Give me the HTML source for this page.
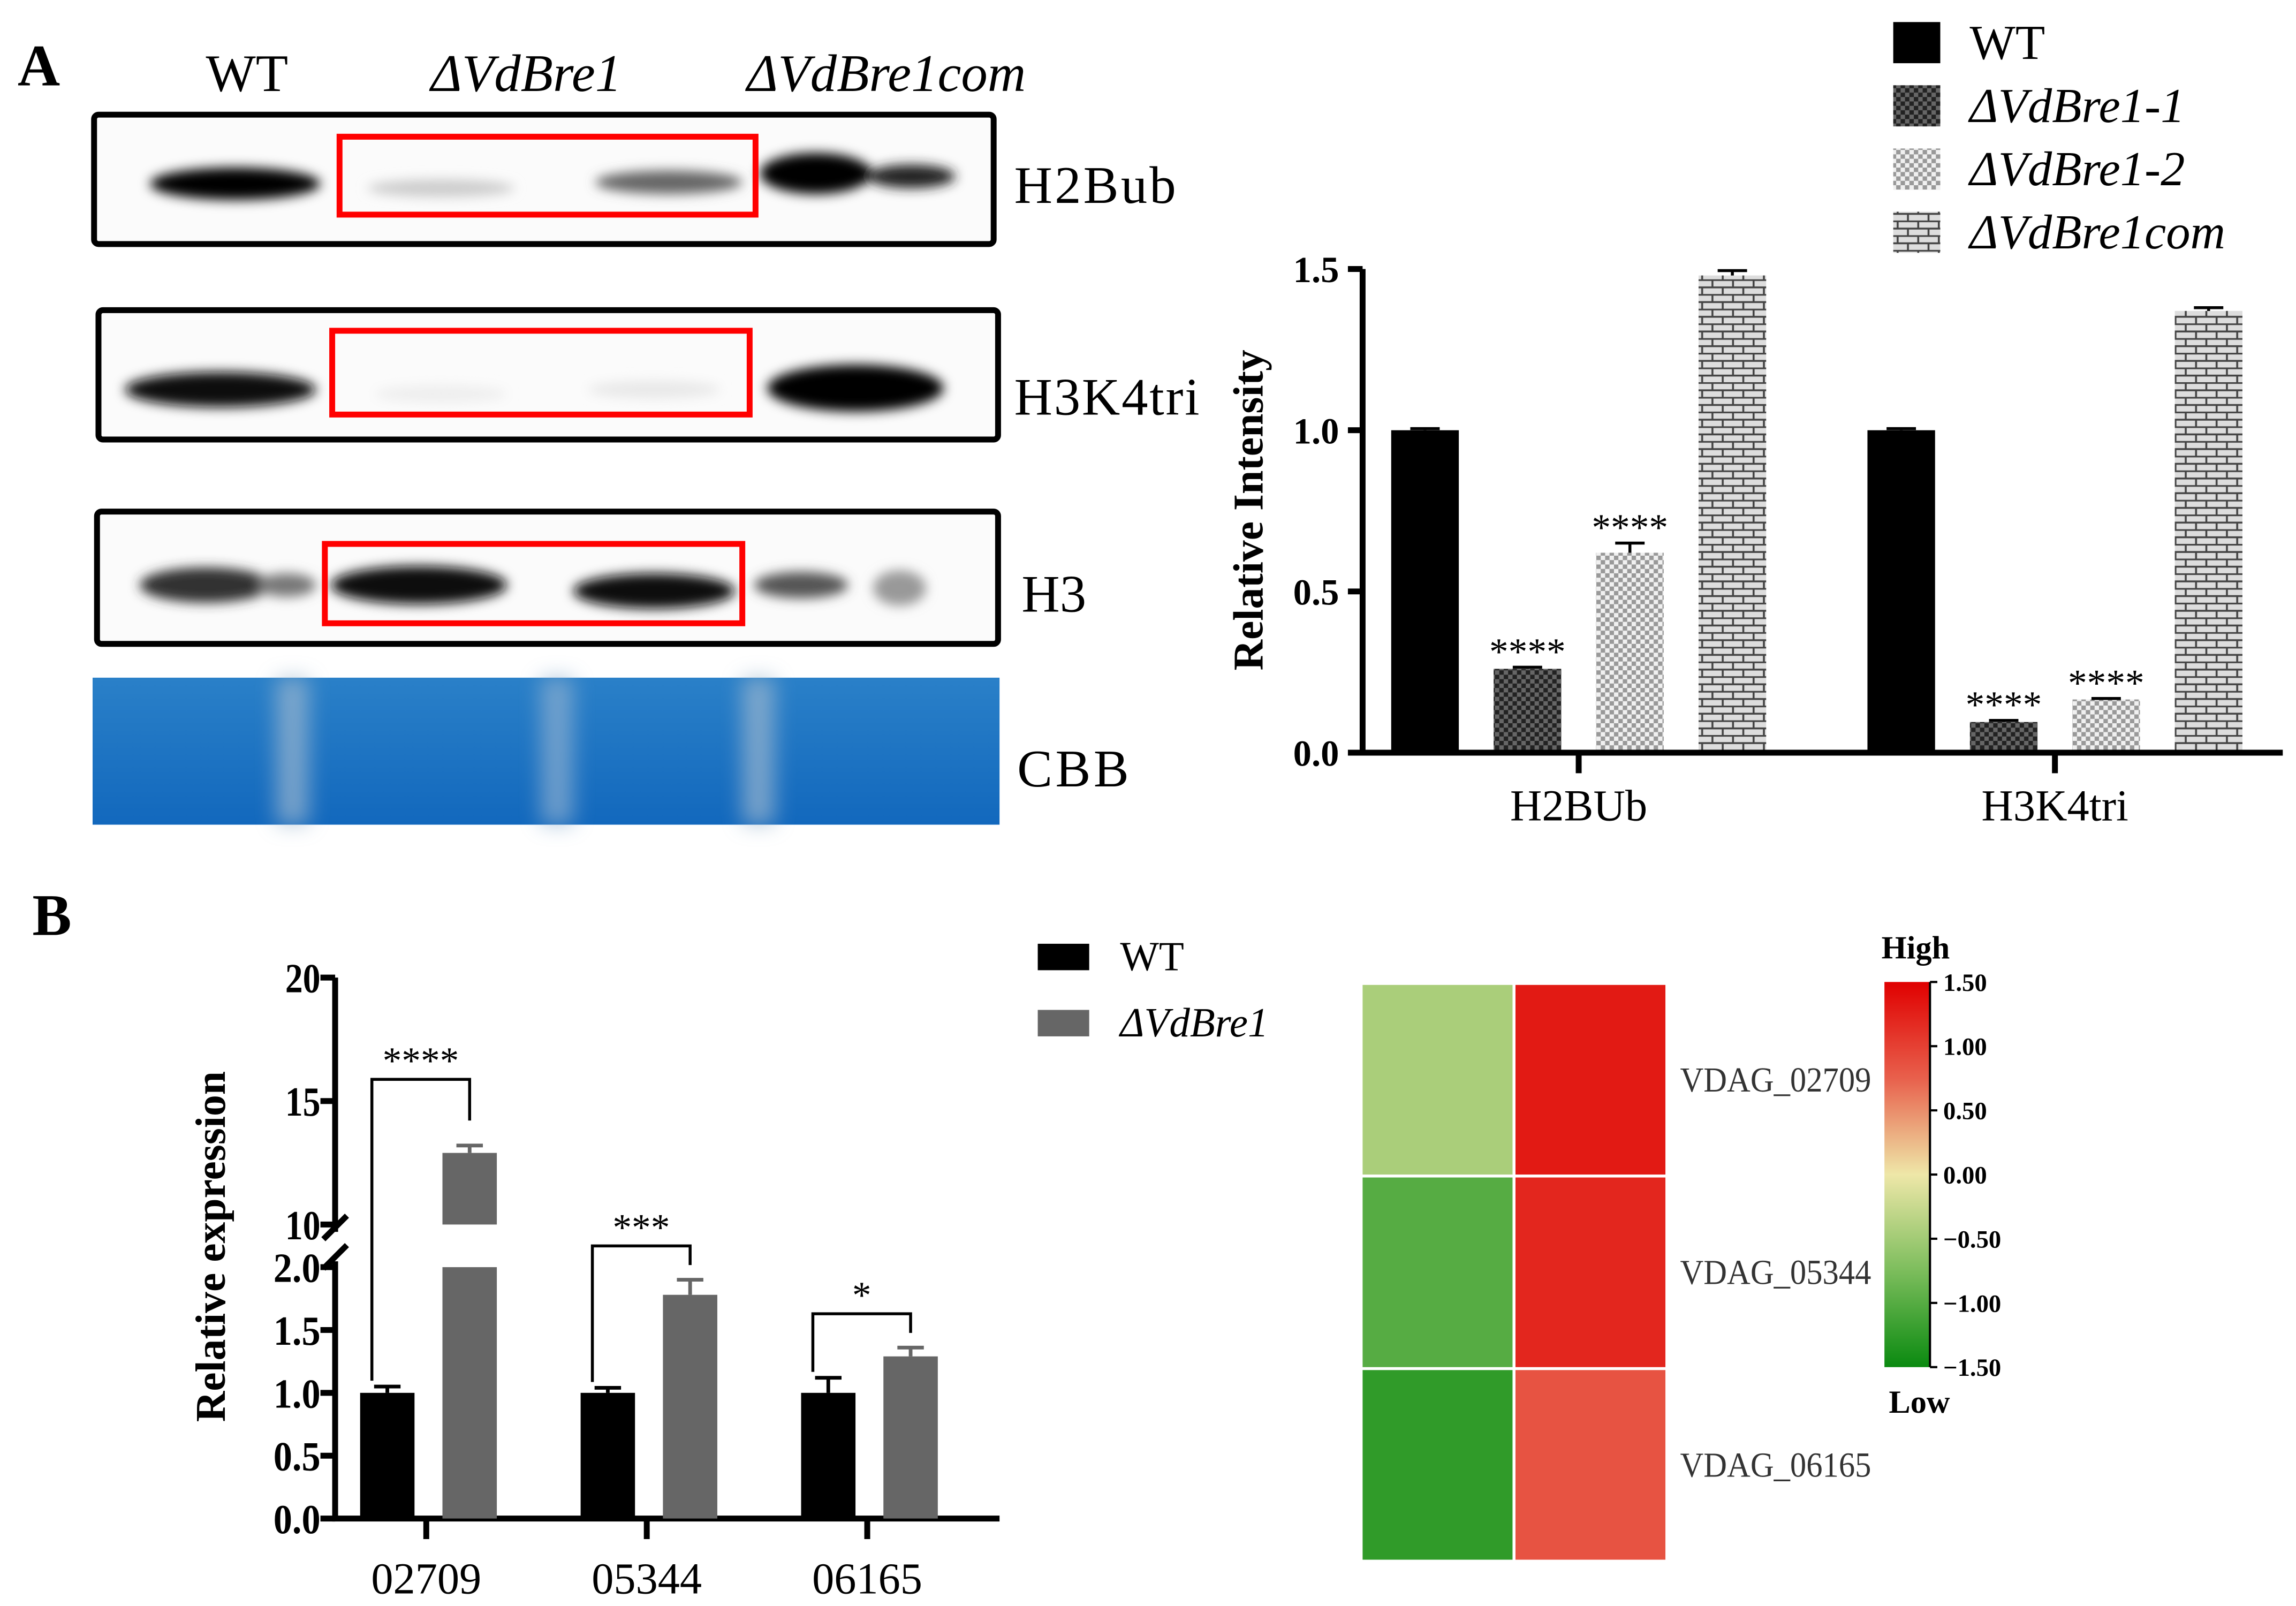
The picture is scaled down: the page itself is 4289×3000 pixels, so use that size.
<!DOCTYPE html>
<html><head><meta charset="utf-8"><style>
html,body{margin:0;padding:0;background:#fff}
svg{display:block}
text{font-family:"Liberation Serif",serif}
</style></head><body>
<svg id="root" width="4289" height="3000" viewBox="0 0 1562 1092.5" preserveAspectRatio="none" xmlns="http://www.w3.org/2000/svg">
<defs>
<filter id="blur" x="-20%" y="-50%" width="140%" height="200%"><feGaussianBlur stdDeviation="4"/></filter>
<filter id="blur2" x="-20%" y="-50%" width="140%" height="200%"><feGaussianBlur stdDeviation="7"/></filter>
<pattern id="pDark" width="6" height="6" patternUnits="userSpaceOnUse"><rect width="6" height="6" fill="#666"/><rect width="3" height="3" fill="#222"/><rect x="3" y="3" width="3" height="3" fill="#222"/></pattern>
<pattern id="pLight" width="6" height="6" patternUnits="userSpaceOnUse"><rect width="6" height="6" fill="#f0f0f0"/><rect width="3" height="3" fill="#999"/><rect x="3" y="3" width="3" height="3" fill="#999"/></pattern>
<pattern id="pBrick" width="14" height="10" patternUnits="userSpaceOnUse"><rect width="14" height="10" fill="#ddd"/><path d="M0 0.5H14M0 5.5H14M3 0V5M10 5V10" stroke="#444" stroke-width="1.3"/></pattern>
<linearGradient id="cbar" x1="0" y1="0" x2="0" y2="1">
<stop offset="0" stop-color="#e00000"/><stop offset="0.25" stop-color="#e8604c"/><stop offset="0.5" stop-color="#eee7a8"/><stop offset="0.75" stop-color="#7cbd5c"/><stop offset="1" stop-color="#0a8a10"/></linearGradient>
<linearGradient id="cbbGrad" x1="0" y1="0" x2="0" y2="1"><stop offset="0" stop-color="#2a80c8"/><stop offset="1" stop-color="#1268bd"/></linearGradient>
</defs>

<text x="12" y="58" font-size="40" font-weight="bold">A</text>
<text x="168" y="62" font-size="36" text-anchor="middle">WT</text>
<text x="358" y="62" font-size="36" font-style="italic" text-anchor="middle">ΔVdBre1</text>
<text x="603" y="62" font-size="36" font-style="italic" text-anchor="middle">ΔVdBre1com</text>

<g>
<rect x="64" y="78" width="612" height="88" fill="#fbfbfb" stroke="#000" stroke-width="4" rx="3"/>
<g filter="url(#blur)"><ellipse cx="160" cy="125" rx="58" ry="11" fill="#000"/><ellipse cx="300" cy="128" rx="50" ry="6" fill="#ccc"/><ellipse cx="455" cy="124" rx="50" ry="8" fill="#666"/><ellipse cx="555" cy="118" rx="38" ry="14" fill="#000"/><ellipse cx="620" cy="120" rx="30" ry="8" fill="#222"/></g>
<rect x="231" y="93" width="283" height="53" fill="none" stroke="#f00" stroke-width="4"/>
</g>
<g>
<rect x="67" y="211" width="612" height="88" fill="#fbfbfb" stroke="#000" stroke-width="4" rx="3"/>
<g filter="url(#blur)"><ellipse cx="150" cy="265" rx="65" ry="12" fill="#111"/><ellipse cx="300" cy="268" rx="45" ry="6" fill="#eee"/><ellipse cx="445" cy="265" rx="45" ry="6" fill="#e8e8e8"/><ellipse cx="582" cy="264" rx="60" ry="16" fill="#000"/></g>
<rect x="226" y="225" width="284" height="57" fill="none" stroke="#f00" stroke-width="4"/>
</g>
<g>
<rect x="66" y="348" width="613" height="90" fill="#fbfbfb" stroke="#000" stroke-width="4" rx="3"/>
<g filter="url(#blur)"><ellipse cx="140" cy="398" rx="45" ry="12" fill="#333"/><ellipse cx="195" cy="398" rx="20" ry="8" fill="#777"/><ellipse cx="285" cy="398" rx="60" ry="13" fill="#111"/><ellipse cx="445" cy="402" rx="55" ry="12" fill="#111"/><ellipse cx="545" cy="398" rx="32" ry="9" fill="#555"/><ellipse cx="612" cy="400" rx="18" ry="12" fill="#999"/></g>
<rect x="221" y="370" width="284" height="54" fill="none" stroke="#f00" stroke-width="4"/>
</g>
<g>
<rect x="63" y="461" width="617" height="100" fill="url(#cbbGrad)"/>
<g filter="url(#blur2)" opacity="0.7"><rect x="188" y="461" width="22" height="100" fill="#9fb8cf"/><rect x="368" y="461" width="22" height="100" fill="#8fb0d0"/><rect x="505" y="461" width="22" height="100" fill="#9fb8cf"/></g>
</g>
<text x="690" y="138" font-size="36" textLength="110">H2Bub</text>
<text x="690" y="282" font-size="36" textLength="126">H3K4tri</text>
<text x="695" y="416" font-size="36">H3</text>
<text x="692" y="535" font-size="36" textLength="76">CBB</text>

<g id="chartA"></g>
<text x="22" y="636" font-size="40" font-weight="bold">B</text>
<g id="chartB"></g>
<g id="heat"></g>
</svg>
<script>
// ---- Chart A data ----
const aCategories = ["H2BUb", "H3K4tri"];
const aSeries = ["WT", "ΔVdBre1-1", "ΔVdBre1-2", "ΔVdBre1com"];
const aValues = [[1.0, 0.26, 0.62, 1.48], [1.0, 0.095, 0.165, 1.37]];
const aErrors = [[0.005, 0.005, 0.03, 0.015], [0.005, 0.005, 0.003, 0.01]];
const aStars = [["", "****", "****", ""], ["", "****", "****", ""]];
const aTicks = [0, 0.5, 1.0, 1.5];
// ---- Chart B data ----
const bCategories = ["02709", "05344", "06165"];
const bWT = [1.0, 1.0, 1.0];
const bWTerr = [0.05, 0.04, 0.12];
const bMut = [12.9, 1.78, 1.29];
const bMutErr = [0.3, 0.12, 0.07];
const bStars = ["****", "***", "*"];
const bLowTicks = ["0.0", "0.5", "1.0", "1.5", "2.0"];
const bHighTicks = ["10", "15", "20"];
// ---- Heatmap data ----
const hGenes = ["VDAG_02709", "VDAG_05344", "VDAG_06165"];
const hWT = [-0.45, -1.0, -1.25];
const hMut = [1.3, 1.2, 0.85];
const hTicks = [1.5, 1.0, 0.5, 0, -0.5, -1.0, -1.5];

const NS = "http://www.w3.org/2000/svg";
function mk(parent, tag, attrs, txt) {
  const e = document.createElementNS(NS, tag);
  for (const k in attrs) e.setAttribute(k, attrs[k]);
  if (txt !== undefined) e.textContent = txt;
  parent.appendChild(e);
  return e;
}

// ===== Chart A =====
(function () {
  const g = document.getElementById("chartA");
  const x0 = 927, y0 = 512, yTop = 183, xEnd = 1553;
  const y = v => y0 - v * (y0 - yTop) / 1.5;
  const groupCenter = i => 1074 + i * 324;
  const barW = 46, step = 69.7;
  const fills = ["#000", "url(#pDark)", "url(#pLight)", "url(#pBrick)"];
  aTicks.forEach(t => {
    const l = mk(g, "line", { x1: x0 - 10, x2: x0, y1: y(t), y2: y(t), stroke: "#000", "stroke-width": 4 });
    
    
    const tx = mk(g, "text", { x: x0 - 16, y: y(t) + 9, "font-size": 25, "font-weight": "bold", "text-anchor": "end", "font-family": "Liberation Sans, sans-serif" }, t.toFixed(1));
    
    
  });
  aCategories.forEach((c, i) => {
    const cx = groupCenter(i);
    aSeries.forEach((s, j) => {
      const bx = cx - 1.5 * step + j * step - barW / 2;
      const v = aValues[i][j], e = aErrors[i][j];
      const r = mk(g, "rect", { x: bx, y: y(v), width: barW, height: y0 - y(v), fill: fills[j] });
      
      
      const m = bx + barW / 2;
      const eb = mk(g, "path", { d: `M${m} ${y(v)}V${y(v + e)}M${m - 10} ${y(v + e)}H${m + 10}`, stroke: "#000", "stroke-width": 2, fill: "none" });
      
      
      if (aStars[i][j]) {
        const st = mk(g, "text", { x: m, y: y(v + e) - 2, "font-size": 26, "text-anchor": "middle" }, aStars[i][j]);
        
        
      }
    });
    const tk = mk(g, "line", { x1: cx, x2: cx, y1: y0, y2: y0 + 14, stroke: "#000", "stroke-width": 4 });
    
    
    const lb = mk(g, "text", { x: cx, y: 558, "font-size": 30, "text-anchor": "middle" }, c);
    
    
  });
  const ax = mk(g, "path", { d: `M${x0} ${yTop}V${y0}H${xEnd}`, stroke: "#000", "stroke-width": 4, fill: "none" });
  
  
  const yt = mk(g, "text", { transform: "translate(859,347) rotate(-90)", "font-size": 29, "font-weight": "bold", "text-anchor": "middle" }, "Relative Intensity");
  
  
  aSeries.forEach((s, j) => {
    const ly = 15 + j * 43;
    const sw = mk(g, "rect", { x: 1288, y: ly, width: 32, height: 28, fill: fills[j] });
    
    
    const t = mk(g, "text", { x: 1340, y: ly + 25, "font-size": 33, "font-style": j ? "italic" : "normal" }, s);
    
    
  });
})();

// ===== Chart B =====
(function () {
  const g = document.getElementById("chartB");
  const x0 = 228, y0 = 1033, xEnd = 680;
  const yLow = v => y0 - v * 85.5;
  const yHigh = v => 833 - (v - 10) * 16.8;
  const y = v => v <= 2.2 ? yLow(v) : yHigh(v);
  const cxs = i => 290 + i * 150;
  const bw = 37;
  function tickLabel(v, yy, t) {
    const l = mk(g, "line", { x1: x0 - 10, x2: x0, y1: yy, y2: yy, stroke: "#000", "stroke-width": 4 });
    
    
    const tx = mk(g, "text", { x: x0 - 10, y: yy + 10, "font-size": 28, "font-weight": "bold", "text-anchor": "end", textLength: t.length > 2 ? 32 : 24, lengthAdjust: "spacingAndGlyphs" }, t);
    
    
  }
  bLowTicks.forEach(t => tickLabel(parseFloat(t), yLow(parseFloat(t)), t));
  bHighTicks.forEach(t => tickLabel(parseFloat(t), yHigh(parseFloat(t)), t));
  const ax = mk(g, "path", { d: `M${x0} 665V838M${x0} 858V${y0}H${xEnd}`, stroke: "#000", "stroke-width": 4, fill: "none" });
  
  
  const br = mk(g, "path", { d: `M${x0 - 8} 843L${x0 + 8} 827M${x0 - 8} 863L${x0 + 8} 847`, stroke: "#000", "stroke-width": 4 });
  
  
  bCategories.forEach((c, i) => {
    const cx = cxs(i);
    const wx = cx - 45, mx = cx + 11;
    const w = mk(g, "rect", { x: wx, y: yLow(bWT[i]), width: bw, height: y0 - yLow(bWT[i]), fill: "#000" });
    
    
    const we = mk(g, "path", { d: `M${wx + bw / 2} ${yLow(bWT[i])}V${yLow(bWT[i] + bWTerr[i])}M${wx + bw / 2 - 9} ${yLow(bWT[i] + bWTerr[i])}H${wx + bw / 2 + 9}`, stroke: "#000", "stroke-width": 2.5, fill: "none" });
    
    
    const mv = bMut[i];
    if (mv > 2.2) {
      const r1 = mk(g, "rect", { x: mx, y: yLow(2), width: bw, height: y0 - yLow(2), fill: "#666" });
      
      
      const r2 = mk(g, "rect", { x: mx, y: yHigh(mv), width: bw, height: yHigh(10) - yHigh(mv), fill: "#666" });
      
      
    } else {
      const r = mk(g, "rect", { x: mx, y: yLow(mv), width: bw, height: y0 - yLow(mv), fill: "#666" });
      
      
    }
    const ey = y(mv + bMutErr[i]);
    const me = mk(g, "path", { d: `M${mx + bw / 2} ${y(mv)}V${ey}M${mx + bw / 2 - 9} ${ey}H${mx + bw / 2 + 9}`, stroke: "#666", "stroke-width": 2.5, fill: "none" });
    
    
    const lx = wx + 8, rx = mx + bw / 2;
    const top = ey - 15 - (mv > 2.2 ? 30 : 8);
    const bk = mk(g, "path", { d: `M${lx} ${yLow(bWT[i] + bWTerr[i]) - 4}V${top}H${rx}V${top + 13 + (mv > 2.2 ? 15 : 0)}`, stroke: "#000", "stroke-width": 2, fill: "none" });
    
    
    const st = mk(g, "text", { x: (lx + rx) / 2, y: top - 4, "font-size": 26, "text-anchor": "middle" }, bStars[i]);
    
    
    const tk = mk(g, "line", { x1: cx, x2: cx, y1: y0, y2: y0 + 14, stroke: "#000", "stroke-width": 4 });
    
    
    const lb = mk(g, "text", { x: cx, y: 1084, "font-size": 30, "text-anchor": "middle" }, c);
    
    
  });
  const yt = mk(g, "text", { transform: "translate(153,848) rotate(-90)", "font-size": 29, "font-weight": "bold", "text-anchor": "middle" }, "Relative expression");
  
  
  [["WT", "#000", 642, "normal"], ["ΔVdBre1", "#666", 687, "italic"]].forEach(d => {
    const sw = mk(g, "rect", { x: 706, y: d[2], width: 35, height: 18, fill: d[1] });
    
    
    const t = mk(g, "text", { x: 762, y: d[2] + 18, "font-size": 28, "font-style": d[3] }, d[0]);
    
    
  });
})();

// ===== Heatmap =====
(function () {
  const g = document.getElementById("heat");
  const stops = [[1.5, [224, 0, 0]], [0.75, [232, 96, 76]], [0, [238, 231, 168]], [-0.75, [124, 189, 92]], [-1.5, [10, 138, 16]]];
  function col(v) {
    for (let k = 0; k < stops.length - 1; k++) {
      const a = stops[k], b = stops[k + 1];
      if (v <= a[0] && v >= b[0]) {
        const t = (a[0] - v) / (a[0] - b[0]);
        return "rgb(" + a[1].map((c, i) => Math.round(c + (b[1][i] - c) * t)).join(",") + ")";
      }
    }
    return v > 0 ? "rgb(224,0,0)" : "rgb(10,138,16)";
  }
  const x0 = 927, cw = 102, y0 = 670, rh = 129;
  hGenes.forEach((gn, i) => {
    const c1 = mk(g, "rect", { x: x0, y: y0 + i * (rh + 2), width: cw, height: rh, fill: col(hWT[i]) });
    
    
    const c2 = mk(g, "rect", { x: x0 + cw + 2, y: y0 + i * (rh + 2), width: cw, height: rh, fill: col(hMut[i]) });
    
    
    const t = mk(g, "text", { x: 1143, y: y0 + i * (rh + 2) + rh / 2 + 8, "font-size": 24, fill: "#333", textLength: 130, lengthAdjust: "spacingAndGlyphs" }, gn);
    
    
  });
  const cbTop = 668, cbBot = 930;
  const cy = v => cbTop + (1.5 - v) / 3 * (cbBot - cbTop);
  const cb = mk(g, "rect", { x: 1282, y: cbTop, width: 31, height: cbBot - cbTop, fill: "url(#cbar)" });
  
  
  mk(g, "line", { x1: 1313, x2: 1313, y1: cbTop, y2: cbBot, stroke: "#000", "stroke-width": 1.5 });
  hTicks.forEach(v => {
    const l = mk(g, "line", { x1: 1313, x2: 1318, y1: cy(v), y2: cy(v), stroke: "#000", "stroke-width": 1.5 });
    
    
    const t = mk(g, "text", { x: 1322, y: cy(v) + 6, "font-size": 17, "font-weight": "bold" }, (v < 0 ? "\u2212" : "") + Math.abs(v).toFixed(2));
    
    
  });
  const hi = mk(g, "text", { x: 1280, y: 652, "font-size": 22, "font-weight": "bold" }, "High");
  
  
  const lo = mk(g, "text", { x: 1285, y: 961, "font-size": 22, "font-weight": "bold" }, "Low");
  
  
})();
</script>
</body></html>
